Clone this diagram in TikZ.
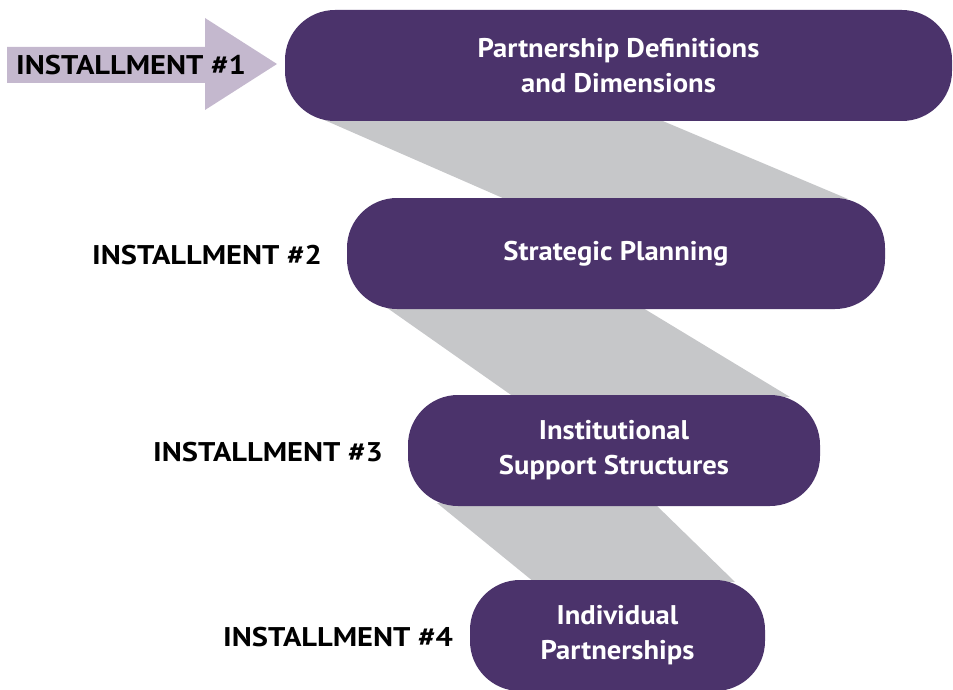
\documentclass[tikz,border=0pt]{standalone}
\usepackage{fontspec}
\setmainfont{PT Sans}[FakeStretch=1.06]
\newfontfamily\labelfont{PT Sans}[FakeStretch=1.13]
\usetikzlibrary{calc}
\definecolor{boxpurple}{HTML}{4B336B}
\definecolor{arrowlilac}{HTML}{C4B8CE}
\definecolor{bandgray}{HTML}{C6C7C9}
\tikzset{
  x=1pt, y=-1pt,
  stagebox/.style={fill=boxpurple, draw=none, rounded corners=50pt, minimum height=111pt,
    text=white, font=\bfseries\fontsize{27}{35}\selectfont, align=center, inner sep=0pt},
  instlabel/.style={text=black, font=\labelfont\bfseries\fontsize{27}{30}\selectfont, inner sep=0pt},
  band/.style={fill=bandgray, draw=none}
}
\begin{document}
\begin{tikzpicture}
\useasboundingbox (0,0) rectangle (953,690);
% bands (behind boxes)
\fill[bandgray] (322,119) -- (658,119) -- (848,199) -- (505,199) -- cycle;
\fill[bandgray] (383,305) -- (638,305) -- (790,397) -- (514,397) -- cycle;
\fill[bandgray] (437,503) -- (654,503) -- (735,582) -- (534,582) -- cycle;
% boxes
\node[stagebox, minimum width=667pt] (b1) at (618.5,65.5) {Partnership Definitions\\and Dimensions};
\node[stagebox, minimum width=538pt] (b2) at (616,253.5) {Strategic Planning};
\node[stagebox, minimum width=412pt] (b3) at (614,450.5) {Institutional\\Support Structures};
\node[stagebox, minimum width=295pt] (b4) at (617.5,635.5) {Individual\\Partnerships};
% arrow
\fill[arrowlilac] (7,47) -- (205,47) -- (205,18) -- (277,64) -- (205,110) -- (205,83) -- (7,83) -- cycle;
\node[instlabel] (l1) at (131,65) {INSTALLMENT \#1};
\node[instlabel] (l2) at (207,255) {INSTALLMENT \#2};
\node[instlabel] (l3) at (268,452) {INSTALLMENT \#3};
\node[instlabel] (l4) at (338,637) {INSTALLMENT \#4};
\end{tikzpicture}
\end{document}
